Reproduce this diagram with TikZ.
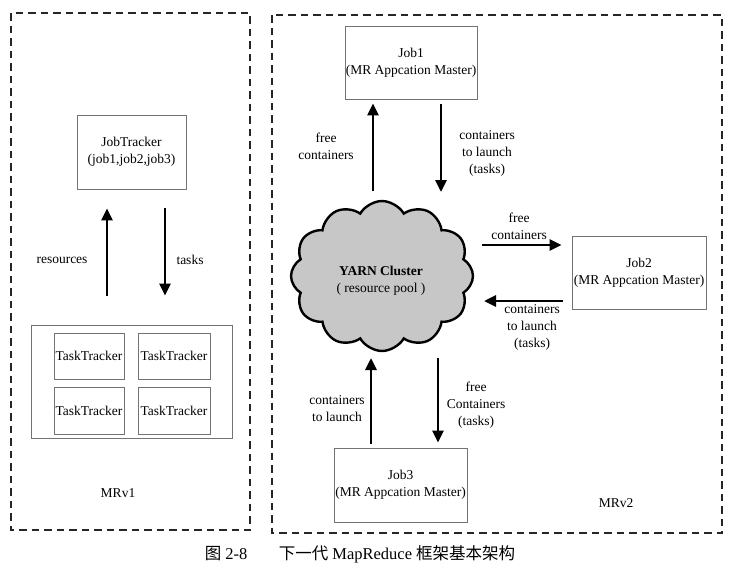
\documentclass[tikz,border=0pt]{standalone}
\usepackage{fontspec}
\setmainfont{Liberation Serif}
\newfontfamily\cjk{Noto Sans CJK SC}
\usetikzlibrary{arrows.meta,shapes.symbols,calc}
\begin{document}
\begin{tikzpicture}[x=1pt,y=-1pt,
  every node/.style={font=\fontsize{13.5}{17}\selectfont, align=center, inner sep=0pt},
  box/.style={draw=black!55, line width=0.8pt, fill=white},
  frame/.style={draw=black!85, line width=1.8pt, dash pattern=on 7.5pt off 5pt},
  arr/.style={line width=2.8pt, -{Triangle[length=12pt,width=11pt]}},
  lbl/.style={}]
\useasboundingbox (0,0) rectangle (752,584);
% frames
\draw[frame] (11,13) rectangle (250,530);
\draw[frame] (272,15) rectangle (722,533);
% MRv1
\node[box, minimum width=109pt, minimum height=74pt] (jt) at (131.5,152) {JobTracker\\(job1,job2,job3)};
\node[box, minimum width=201pt, minimum height=113pt] (tt) at (131.5,381.5) {};
\node[box, minimum width=70pt, minimum height=46pt] (tt1) at (89,356) {TaskTracker};
\node[box, minimum width=72pt, minimum height=46pt] (tt2) at (174,356) {TaskTracker};
\node[box, minimum width=70pt, minimum height=47pt] (tt3) at (89,410.5) {TaskTracker};
\node[box, minimum width=72pt, minimum height=47pt] (tt4) at (174,410.5) {TaskTracker};
\coordinate (r1) at (107,296);
\coordinate (t1) at (165,208);
\draw[arr, shorten >=19pt] (r1) -- (r1 |- jt.south);
\draw[arr] (t1) -- (t1 |- tt.north) [shorten >=29pt];
\node (lres) at (62,260) {resources};
\node (ltask) at (190,260) {tasks};
\node (mrv1) at (118,493) {MRv1};
% MRv2
\node[cloud, cloud puffs=12, cloud puff arc=120, aspect=1.2, draw=black, line width=2.4pt,
      fill=black!22, minimum width=182pt, minimum height=150pt] (cl) at (382,276) {};
\node (cltxt) at (381,281) {\textbf{YARN Cluster}\\( resource pool )};
\node[box, minimum width=132pt, minimum height=73pt] (job1) at (411,62.5) {Job1\\(MR Appcation Master)};
\node[box, minimum width=134pt, minimum height=73pt] (job2) at (639,272.5) {Job2\\(MR Appcation Master)};
\node[box, minimum width=133pt, minimum height=74pt] (job3) at (400.5,485) {Job3\\(MR Appcation Master)};
% job1 arrows
\coordinate (a1) at (373,191);
\draw[arr, shorten >=4pt] (a1) -- (a1 |- job1.south);
\coordinate (a2) at (441,104);
\draw[arr] (a2) -- (441,192);
\node (l1) at (326,146) {free\\containers};
\node (l2) at (487,153.5) {containers\\to launch\\(tasks)};
% job2 arrows
\coordinate (b1) at (482,245);
\draw[arr, shorten >=10pt] (b1) -- (b1 -| job2.west);
\coordinate (b2) at (563,301);
\draw[arr] (b2) -- (484,301);
\node (l3) at (519,226.5) {free\\containers};
\node (l4) at (532,327.5) {containers\\to launch\\(tasks)};
% job3 arrows
\coordinate (c1) at (371,444);
\draw[arr] (c1) -- (371,358);
\coordinate (c2) at (438,358);
\draw[arr, shorten >=5pt] (c2) -- (c2 |- job3.north);
\node (l5) at (337,409) {containers\\to launch};
\node (l6) at (476,405.5) {free\\Containers\\(tasks)};
\node (mrv2) at (616,503) {MRv2};
% caption
\node[font=\fontsize{16.5}{19}\selectfont] (cap) at (360,554) {{\cjk 图} 2-8\hspace{1.9em}{\cjk 下一代} MapReduce {\cjk 框架基本架构}};
\end{tikzpicture}
\end{document}
